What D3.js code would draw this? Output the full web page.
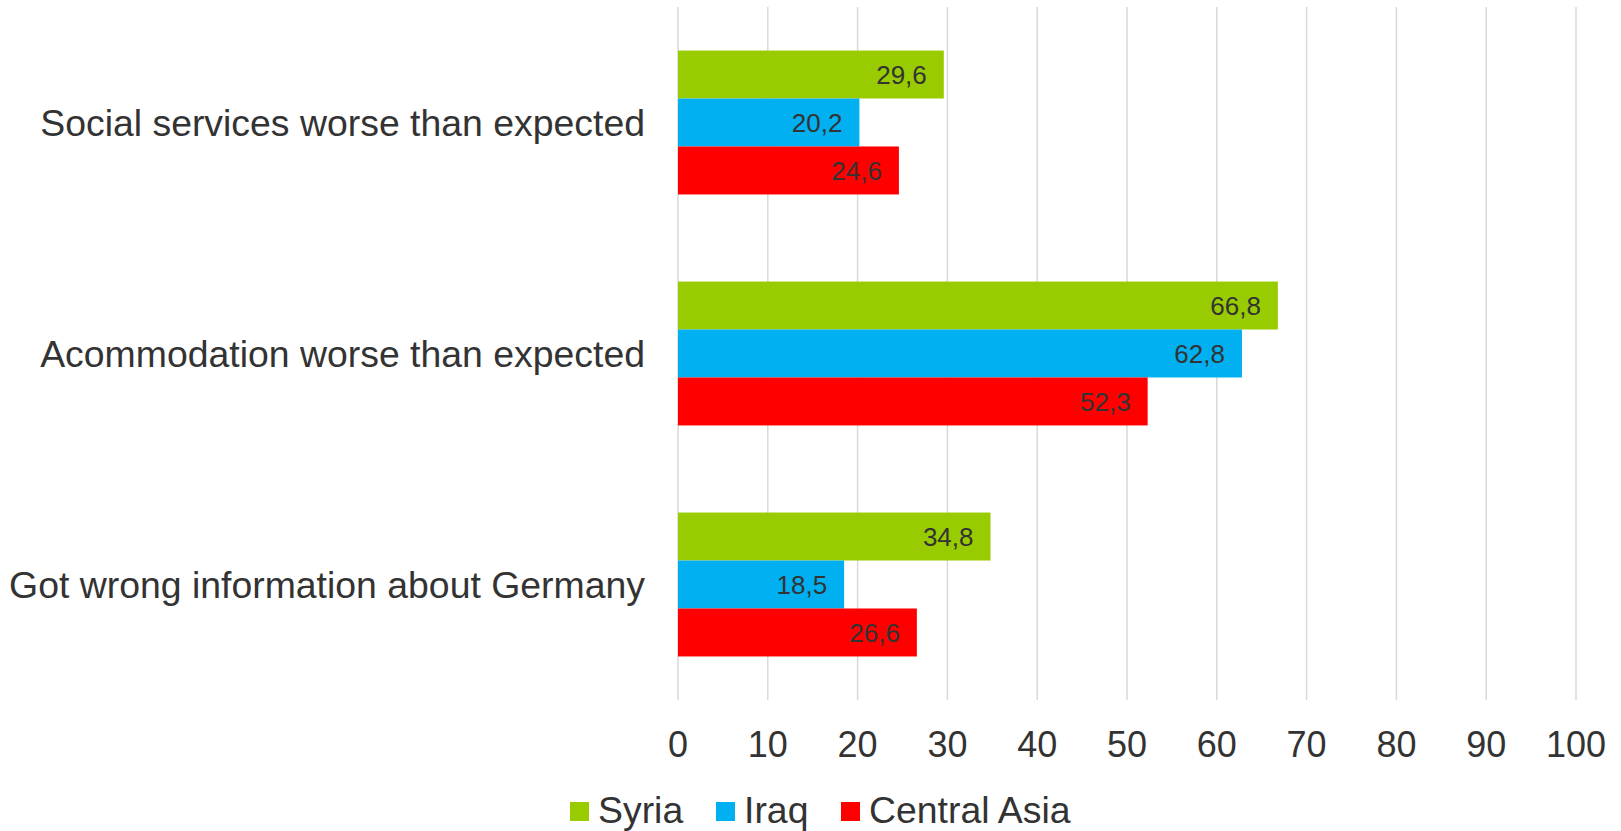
<!DOCTYPE html>
<html>
<head>
<meta charset="utf-8">
<script src="https://cdn.jsdelivr.net/npm/d3@7"></script>
<style>
  html, body { margin: 0; padding: 0; background: #fff; }
  svg { display: block; font-family: "Liberation Sans", Arial, sans-serif; }
</style>
</head>
<body>
<svg id="chart" width="1621" height="831"></svg>
<script>
const categories = ["Social services worse than expected", "Acommodation worse than expected", "Got wrong information about Germany"];
const seriesNames = ["Syria", "Iraq", "Central Asia"];
const seriesColors = ["#99CC00", "#00B0F0", "#FF0000"];
const syria = [29.6, 66.8, 34.8];
const iraq = [20.2, 62.8, 18.5];
const centralAsia = [24.6, 52.3, 26.6];
const tickValues = [0, 10, 20, 30, 40, 50, 60, 70, 80, 90, 100];

const seriesValues = [syria, iraq, centralAsia];
const svg = d3.select("#chart");

const x = d3.scaleLinear().domain([0, 100]).range([678, 1576]);
const y = d3.scaleBand().domain(categories).range([7, 700]).paddingInner(0.377).paddingOuter(0.1885);
const ySub = d3.scaleBand().domain(seriesNames).range([0, y.bandwidth()]).padding(0);
const color = d3.scaleOrdinal().domain(seriesNames).range(seriesColors);

// gridlines
svg.append("g").selectAll("line").data(tickValues).join("line")
  .attr("x1", d => x(d)).attr("x2", d => x(d))
  .attr("y1", 7).attr("y2", 700)
  .attr("stroke", "#d9d9d9").attr("stroke-width", 1.5);

// tick labels
svg.append("g").selectAll("text").data(tickValues).join("text")
  .attr("x", d => x(d)).attr("y", 757)
  .attr("text-anchor", "middle")
  .attr("font-size", 36).attr("fill", "#333")
  .text(d => d);

// category labels
svg.append("g").selectAll("text").data(categories).join("text")
  .attr("x", 645)
  .attr("y", d => y(d) + y.bandwidth() / 2)
  .attr("dy", "0.35em")
  .attr("text-anchor", "end")
  .attr("font-size", 37.4).attr("fill", "#333")
  .text(d => d);

// bars
const rows = [];
categories.forEach((c, i) => {
  seriesNames.forEach((s, j) => rows.push({ cat: c, series: s, value: seriesValues[j][i] }));
});

svg.append("g").selectAll("rect").data(rows).join("rect")
  .attr("x", x(0))
  .attr("y", d => y(d.cat) + ySub(d.series))
  .attr("width", d => x(d.value) - x(0))
  .attr("height", ySub.bandwidth())
  .attr("fill", d => color(d.series));

// value labels
svg.append("g").selectAll("text").data(rows).join("text")
  .attr("x", d => x(d.value) - 17)
  .attr("y", d => y(d.cat) + ySub(d.series) + ySub.bandwidth() / 2)
  .attr("dy", "0.36em")
  .attr("text-anchor", "end")
  .attr("font-size", 26).attr("fill", "#333")
  .text(d => d3.format(".1f")(d.value).replace(".", ","));

// legend
const legendX = [570, 716, 841];
const legend = svg.append("g").selectAll("g").data(seriesNames).join("g")
  .attr("transform", (d, i) => `translate(${legendX[i]},802)`);
legend.append("rect").attr("width", 19).attr("height", 19).attr("fill", d => color(d));
legend.append("text").attr("x", 28).attr("y", 21)
  .attr("font-size", 37.4).attr("fill", "#333")
  .text(d => d);
</script>
</body>
</html>
